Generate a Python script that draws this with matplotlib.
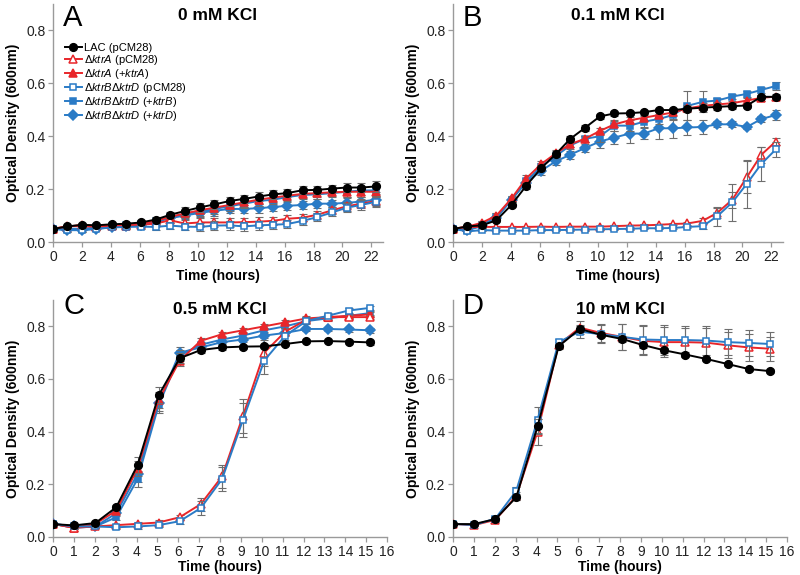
import matplotlib
matplotlib.use("Agg")
import matplotlib.pyplot as plt
import numpy as np

plt.rcParams['font.family'] = ['Liberation Sans', 'DejaVu Sans']
plt.rcParams['mathtext.fontset'] = 'custom'
plt.rcParams['mathtext.it'] = 'Liberation Sans:italic'
plt.rcParams['mathtext.rm'] = 'Liberation Sans'

# ---------------- data ----------------
time_long = [0, 1.0, 2.0, 3.0, 4.05, 5.05, 6.1, 7.1, 8.1, 9.1, 10.15, 11.15,
             12.2, 13.2, 14.2, 15.2, 16.2, 17.25, 18.25, 19.3, 20.3, 21.3, 22.3]
time_short = [0, 1.0, 2.03, 3.03, 4.05, 5.06, 6.07, 7.08, 8.1, 9.1, 10.12,
              11.13, 12.14, 13.15, 14.16, 15.17]

labels = ["LAC (pCM28)",
          "Δ$\\mathit{ktrA}$ (pCM28)",
          "Δ$\\mathit{ktrA}$ (+$\\mathit{ktrA}$)",
          "Δ$\\mathit{ktrB}$Δ$\\mathit{ktrD}$ (pCM28)",
          "Δ$\\mathit{ktrB}$Δ$\\mathit{ktrD}$ (+$\\mathit{ktrB}$)",
          "Δ$\\mathit{ktrB}$Δ$\\mathit{ktrD}$ (+$\\mathit{ktrD}$)"]

# Panel A: 0 mM KCl
A_lac = [0.049, 0.059, 0.065, 0.063, 0.067, 0.069, 0.074, 0.085, 0.103, 0.117, 0.131, 0.142,
         0.155, 0.163, 0.172, 0.180, 0.185, 0.196, 0.197, 0.202, 0.206, 0.206, 0.210]
A_ktrA = [0.050, 0.060, 0.060, 0.058, 0.060, 0.062, 0.065, 0.070, 0.082, 0.070, 0.074, 0.074,
          0.074, 0.075, 0.077, 0.080, 0.088, 0.092, 0.103, 0.120, 0.135, 0.145, 0.155]
A_ktrA_c = [0.050, 0.058, 0.065, 0.060, 0.063, 0.066, 0.070, 0.080, 0.095, 0.108, 0.120, 0.130,
            0.140, 0.150, 0.160, 0.168, 0.175, 0.182, 0.185, 0.188, 0.190, 0.190, 0.190]
A_ktrBD = [0.050, 0.045, 0.045, 0.050, 0.055, 0.057, 0.058, 0.057, 0.062, 0.058, 0.057, 0.062,
           0.063, 0.059, 0.063, 0.065, 0.068, 0.080, 0.094, 0.112, 0.130, 0.140, 0.152]
A_ktrBD_B = [0.050, 0.050, 0.050, 0.055, 0.060, 0.063, 0.067, 0.080, 0.095, 0.105, 0.115, 0.125,
             0.135, 0.145, 0.155, 0.160, 0.170, 0.178, 0.180, 0.185, 0.190, 0.195, 0.195]
A_ktrBD_D = [0.050, 0.045, 0.045, 0.050, 0.055, 0.060, 0.065, 0.075, 0.090, 0.100, 0.110, 0.118,
             0.125, 0.125, 0.128, 0.132, 0.137, 0.140, 0.145, 0.145, 0.148, 0.153, 0.160]
A_err = [0.004, 0.006, 0.006, 0.006, 0.007, 0.008, 0.009, 0.010, 0.012, 0.014, 0.016, 0.018,
         0.017, 0.016, 0.017, 0.016, 0.015, 0.014, 0.016, 0.014, 0.018, 0.018, 0.020]

# Panel B: 0.1 mM KCl
B_lac = [0.049, 0.059, 0.063, 0.082, 0.141, 0.212, 0.280, 0.332, 0.390, 0.431, 0.475, 0.486,
         0.487, 0.491, 0.499, 0.499, 0.504, 0.508, 0.511, 0.514, 0.516, 0.549, 0.549]
B_ktrA = [0.050, 0.057, 0.057, 0.057, 0.057, 0.057, 0.058, 0.057, 0.058, 0.058, 0.058, 0.060,
          0.062, 0.063, 0.065, 0.068, 0.070, 0.080, 0.110, 0.160, 0.245, 0.330, 0.380]
B_ktrA_c = [0.050, 0.058, 0.073, 0.100, 0.165, 0.240, 0.295, 0.335, 0.370, 0.390, 0.420, 0.445,
            0.460, 0.470, 0.480, 0.490, 0.505, 0.515, 0.520, 0.525, 0.535, 0.545, 0.550]
B_ktrBD = [0.050, 0.040, 0.045, 0.043, 0.043, 0.043, 0.045, 0.045, 0.046, 0.047, 0.048, 0.049,
           0.050, 0.052, 0.052, 0.053, 0.057, 0.060, 0.097, 0.150, 0.220, 0.295, 0.350]
B_ktrBD_B = [0.050, 0.045, 0.065, 0.095, 0.160, 0.230, 0.285, 0.325, 0.365, 0.390, 0.400, 0.440,
             0.440, 0.455, 0.465, 0.480, 0.515, 0.530, 0.535, 0.550, 0.560, 0.575, 0.590]
B_ktrBD_D = [0.050, 0.045, 0.060, 0.090, 0.160, 0.225, 0.270, 0.305, 0.330, 0.355, 0.380, 0.395,
             0.410, 0.410, 0.430, 0.430, 0.433, 0.435, 0.445, 0.445, 0.435, 0.465, 0.480]
B_err_lac = [0.004, 0.005, 0.006, 0.008, 0.010, 0.012, 0.012, 0.012, 0.012, 0.012, 0.008, 0.008,
             0.008, 0.008, 0.008, 0.008, 0.010, 0.010, 0.010, 0.010, 0.010, 0.008, 0.008]
B_err_ktrA = [0.004, 0.004, 0.004, 0.004, 0.004, 0.004, 0.004, 0.004, 0.004, 0.004, 0.004, 0.004,
              0.004, 0.004, 0.004, 0.004, 0.005, 0.010, 0.020, 0.030, 0.060, 0.030, 0.012]
B_err_ktrA_c = [0.004, 0.005, 0.006, 0.008, 0.010, 0.012, 0.012, 0.012, 0.012, 0.012, 0.012, 0.012,
                0.012, 0.012, 0.012, 0.012, 0.012, 0.012, 0.010, 0.010, 0.010, 0.010, 0.010]
B_err_ktrBD = [0.004, 0.004, 0.004, 0.004, 0.004, 0.004, 0.004, 0.004, 0.004, 0.004, 0.004, 0.004,
               0.004, 0.004, 0.004, 0.004, 0.005, 0.010, 0.035, 0.070, 0.090, 0.065, 0.030]
B_err_ktrBD_B = [0.004, 0.005, 0.006, 0.008, 0.010, 0.012, 0.012, 0.012, 0.012, 0.012, 0.020, 0.020,
                 0.020, 0.020, 0.020, 0.020, 0.055, 0.040, 0.010, 0.010, 0.010, 0.010, 0.015]
B_err_ktrBD_D = [0.004, 0.005, 0.006, 0.008, 0.010, 0.012, 0.015, 0.015, 0.015, 0.015, 0.025, 0.025,
                 0.035, 0.020, 0.040, 0.035, 0.030, 0.025, 0.012, 0.012, 0.008, 0.010, 0.018]

# Panel C: 0.5 mM KCl
C_lac = [0.049, 0.044, 0.053, 0.113, 0.273, 0.538, 0.679, 0.710, 0.720, 0.723, 0.724, 0.733,
         0.743, 0.744, 0.742, 0.739]
C_ktrA = [0.050, 0.035, 0.040, 0.045, 0.050, 0.055, 0.075, 0.125, 0.230, 0.460, 0.700, 0.780,
          0.825, 0.835, 0.835, 0.835]
C_ktrA_c = [0.050, 0.035, 0.050, 0.100, 0.260, 0.520, 0.670, 0.745, 0.770, 0.785, 0.800, 0.815,
            0.830, 0.835, 0.840, 0.845]
C_ktrBD = [0.050, 0.040, 0.040, 0.037, 0.040, 0.045, 0.060, 0.110, 0.220, 0.445, 0.670, 0.765,
           0.820, 0.840, 0.860, 0.870]
C_ktrBD_B = [0.050, 0.035, 0.040, 0.075, 0.220, 0.500, 0.690, 0.730, 0.750, 0.765, 0.785, 0.800,
             0.820, 0.830, 0.840, 0.850]
C_ktrBD_D = [0.050, 0.040, 0.040, 0.090, 0.240, 0.510, 0.700, 0.720, 0.740, 0.750, 0.765, 0.775,
             0.790, 0.790, 0.788, 0.785]
C_err_fast = [0.004, 0.006, 0.006, 0.010, 0.030, 0.030, 0.020, 0.010, 0.008, 0.008, 0.008, 0.008,
              0.008, 0.008, 0.008, 0.010]
C_err_slow = [0.004, 0.006, 0.006, 0.006, 0.008, 0.008, 0.010, 0.025, 0.045, 0.065, 0.050, 0.015,
              0.010, 0.010, 0.008, 0.008]

# Panel D: 10 mM KCl
D_lac = [0.049, 0.049, 0.068, 0.151, 0.420, 0.724, 0.790, 0.768, 0.752, 0.729, 0.709, 0.693,
         0.676, 0.657, 0.638, 0.630]
D_ktrA = [0.050, 0.045, 0.065, 0.155, 0.400, 0.730, 0.795, 0.775, 0.760, 0.745, 0.740, 0.740,
          0.738, 0.728, 0.720, 0.715]
D_ktrBD = [0.050, 0.045, 0.070, 0.175, 0.445, 0.740, 0.780, 0.770, 0.760, 0.750, 0.748, 0.748,
           0.746, 0.740, 0.737, 0.733]
D_err_lac = [0.004, 0.004, 0.006, 0.012, 0.030, 0.010, 0.010, 0.010, 0.010, 0.010, 0.010, 0.008,
             0.008, 0.008, 0.008, 0.008]
D_err_mut = [0.004, 0.004, 0.008, 0.015, 0.050, 0.012, 0.025, 0.035, 0.050, 0.055, 0.058, 0.055,
             0.055, 0.050, 0.050, 0.045]

# ---------------- styles ----------------
RED = '#e8262a'
BLUE = '#2a7bc6'
BLACK = '#000000'
styles = [
    dict(color=BLACK, marker='o', mfc=BLACK, ms=5.5),
    dict(color=RED, marker='^', mfc='white', ms=6),
    dict(color=RED, marker='^', mfc=RED, ms=6),
    dict(color=BLUE, marker='s', mfc='white', ms=5),
    dict(color=BLUE, marker='s', mfc=BLUE, ms=5),
    dict(color=BLUE, marker='D', mfc=BLUE, ms=5),
]
zorders = [10, 7, 6, 8, 5, 4]

W, H = 800, 575
fig = plt.figure(figsize=(W / 100, H / 100), dpi=100)

def make_ax(left, right, top, bottom):
    return fig.add_axes([left / W, (H - bottom) / H, (right - left) / W, (bottom - top) / H])

axA = make_ax(53, 383, 4, 242)
axB = make_ax(453, 783, 4, 242)
axC = make_ax(53, 387, 300, 537)
axD = make_ax(453, 787, 300, 537)

def plot_series(ax, t, y, err, idx):
    st = styles[idx]
    ax.errorbar(t, y, yerr=err, fmt='none', ecolor='#6e6e6e', elinewidth=0.8,
                capsize=2.8, capthick=0.8, zorder=zorders[idx] - 0.5)
    ax.plot(t, y, color=st['color'], lw=1.4, marker=st['marker'], ms=st['ms'],
            mfc=st['mfc'], mec=st['color'], mew=1.1, zorder=zorders[idx], label=labels[idx])

def style_ax(ax, xmax, xticks, letter, title, letter_y, title_y, xpad):
    ax.set_xlim(0, xmax)
    ax.set_ylim(0, 0.9)
    ax.set_xticks(xticks)
    ax.set_yticks([0.0, 0.2, 0.4, 0.6, 0.8])
    ax.set_yticklabels(['0.0', '0.2', '0.4', '0.6', '0.8'])
    for s in ['top', 'right']:
        ax.spines[s].set_visible(False)
    for s in ['left', 'bottom']:
        ax.spines[s].set_color('#9a9a9a')
        ax.spines[s].set_linewidth(1.0)
    ax.tick_params(axis='both', direction='out', length=3.5, width=0.9, color='#9a9a9a',
                   labelsize=10, labelcolor='#222222', pad=2)
    ax.set_xlabel('Time (hours)', fontsize=10, fontweight='bold', labelpad=xpad)
    ax.set_ylabel('Optical Density (600nm)', fontsize=10, fontweight='bold', labelpad=4)
    ax.text(0.03, letter_y, letter, transform=ax.transAxes, fontsize=21,
            ha='left', va='center')
    ax.text(0.5, title_y, title, transform=ax.transAxes, fontsize=12.5,
            fontweight='bold', ha='center', va='center')

# Panel A
for i, y in enumerate([A_lac, A_ktrA, A_ktrA_c, A_ktrBD, A_ktrBD_B, A_ktrBD_D]):
    plot_series(axA, time_long, y, A_err, i)
style_ax(axA, 22.8, list(range(0, 23, 2)), 'A', '0 mM KCl', 0.943, 0.953, 4)

# Panel B
B_data = [B_lac, B_ktrA, B_ktrA_c, B_ktrBD, B_ktrBD_B, B_ktrBD_D]
B_errs = [B_err_lac, B_err_ktrA, B_err_ktrA_c, B_err_ktrBD, B_err_ktrBD_B, B_err_ktrBD_D]
for i, (y, e) in enumerate(zip(B_data, B_errs)):
    plot_series(axB, time_long, y, e, i)
style_ax(axB, 22.8, list(range(0, 23, 2)), 'B', '0.1 mM KCl', 0.943, 0.953, 4)

# Panel C
C_data = [C_lac, C_ktrA, C_ktrA_c, C_ktrBD, C_ktrBD_B, C_ktrBD_D]
C_errs = [C_err_fast, C_err_slow, C_err_fast, C_err_slow, C_err_fast, C_err_fast]
for i, (y, e) in enumerate(zip(C_data, C_errs)):
    plot_series(axC, time_short, y, e, i)
style_ax(axC, 16, list(range(0, 17)), 'C', '0.5 mM KCl', 0.975, 0.962, 1)

# Panel D
for i, y, e in [(0, D_lac, D_err_lac), (1, D_ktrA, D_err_mut), (3, D_ktrBD, D_err_mut)]:
    plot_series(axD, time_short, y, e, i)
style_ax(axD, 16, list(range(0, 17)), 'D', '10 mM KCl', 0.975, 0.962, 1)

# Legend in panel A
handles, labs = axA.get_legend_handles_labels()
axA.legend(handles, labs, loc='upper left', bbox_to_anchor=(0.035, 0.835), frameon=False,
           fontsize=8, handlelength=1.6, handletextpad=0.15, labelspacing=0.0,
           borderpad=0, borderaxespad=0)

fig.savefig('out.png', dpi=100)
